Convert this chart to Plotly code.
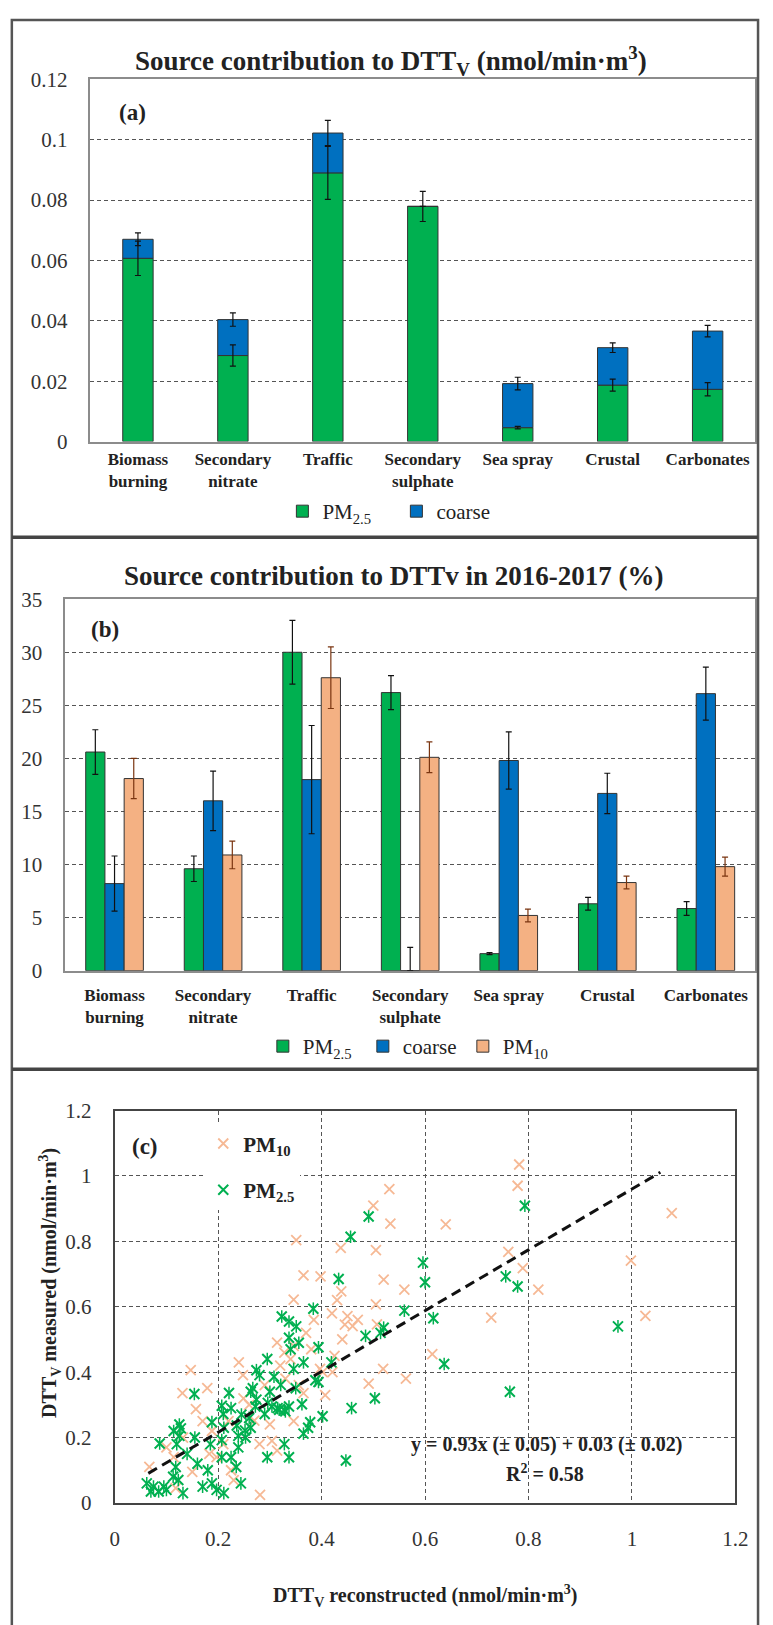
import plotly.graph_objects as go

W, H = 773, 1625

# ---------------- data ----------------
categories = ["Biomass<br>burning", "Secondary<br>nitrate", "Traffic", "Secondary<br>sulphate",
              "Sea spray", "Crustal", "Carbonates"]

# (a) source contribution to DTTv, nmol/min·m3 (stacked PM2.5 + coarse)
pm25_a = [0.0607, 0.0285, 0.0890, 0.0779, 0.0046, 0.0187, 0.0173]
pm25_a_err = [0.0057, 0.0035, 0.0088, 0.0050, 0.0004, 0.0020, 0.0022]
coarse_a = [0.0063, 0.0119, 0.0132, 0.0, 0.0146, 0.0124, 0.0193]
coarse_a_err = [0.0021, 0.0022, 0.0042, 0.0, 0.0021, 0.0016, 0.0019]

# (b) source contribution to DTTv in 2016-2017, %
pm25_b = [20.6, 9.6, 30.0, 26.2, 1.6, 6.3, 5.85]
pm25_b_err = [2.1, 1.2, 3.0, 1.6, 0.1, 0.6, 0.65]
coarse_b = [8.2, 16.0, 18.0, 0.0, 19.8, 16.7, 26.1]
coarse_b_err = [2.6, 2.8, 5.1, 2.2, 2.7, 1.9, 2.5]
pm10_b = [18.1, 10.9, 27.6, 20.1, 5.2, 8.3, 9.8]
pm10_b_err = [1.9, 1.3, 2.9, 1.45, 0.6, 0.6, 0.9]

# (c) measured vs reconstructed DTTv
pm25_x = [0.793, 0.491, 0.456, 0.433, 0.596, 0.600, 0.756, 0.779, 0.384, 0.560, 0.616, 0.637,
          0.764, 0.973, 0.485, 0.514, 0.520, 0.503, 0.458, 0.447, 0.419, 0.402, 0.394, 0.394,
          0.323, 0.337, 0.351, 0.356, 0.346, 0.365, 0.388, 0.374, 0.337, 0.340, 0.321, 0.350,
          0.315, 0.330, 0.296, 0.274, 0.290, 0.362, 0.378, 0.365, 0.267, 0.280, 0.274, 0.308,
          0.295, 0.263, 0.272, 0.300, 0.304, 0.318, 0.328, 0.337, 0.295, 0.337, 0.328,
          0.087, 0.125, 0.128, 0.114, 0.125, 0.154, 0.207, 0.221, 0.210, 0.188, 0.236, 0.252,
          0.239, 0.207, 0.155, 0.160, 0.118, 0.113, 0.123, 0.132, 0.170, 0.188, 0.197, 0.211,
          0.225, 0.211, 0.239, 0.225, 0.235, 0.244, 0.207, 0.253, 0.263, 0.062, 0.070, 0.085,
          0.095, 0.075, 0.100, 0.140, 0.180, 0.260, 0.245, 0.120, 0.185]
pm25_y = [0.909, 0.876, 0.814, 0.685, 0.735, 0.675, 0.693, 0.662, 0.594, 0.588, 0.565, 0.425,
          0.340, 0.540, 0.511, 0.520, 0.536, 0.320, 0.290, 0.130, 0.430, 0.265, 0.370, 0.476,
          0.570, 0.555, 0.540, 0.490, 0.410, 0.430, 0.375, 0.230, 0.505, 0.470, 0.361, 0.351,
          0.290, 0.280, 0.306, 0.316, 0.272, 0.302, 0.247, 0.212, 0.351, 0.391, 0.406, 0.386,
          0.440, 0.340, 0.295, 0.340, 0.295, 0.285, 0.285, 0.295, 0.140, 0.140, 0.180,
          0.182, 0.240, 0.228, 0.220, 0.205, 0.333, 0.297, 0.336, 0.272, 0.247, 0.237, 0.222,
          0.205, 0.192, 0.200, 0.120, 0.110, 0.080, 0.070, 0.030, 0.050, 0.060, 0.040, 0.030,
          0.290, 0.230, 0.170, 0.140, 0.110, 0.060, 0.140, 0.200, 0.230, 0.060, 0.035, 0.035,
          0.050, 0.050, 0.040, 0.150, 0.100, 0.260, 0.270, 0.180, 0.180]

pm10_x = [0.782, 0.779, 0.531, 0.500, 0.533, 0.640, 1.077, 0.351, 0.437, 0.505, 0.761, 0.998,
          0.789, 0.365, 0.398, 0.520, 0.438, 0.560, 0.819, 0.346, 0.505, 0.728, 1.026, 0.450,
          0.460, 0.507, 0.614, 0.519, 0.563, 0.491, 0.346, 0.397, 0.365, 0.270, 0.248, 0.147,
          0.179, 0.131, 0.157, 0.188, 0.183, 0.197, 0.225, 0.230, 0.281, 0.249, 0.290, 0.314,
          0.328, 0.314, 0.304, 0.346, 0.356, 0.402, 0.407, 0.421, 0.067, 0.114, 0.100, 0.132,
          0.150, 0.118, 0.420, 0.430, 0.440, 0.470, 0.425, 0.380, 0.220, 0.280, 0.320, 0.240,
          0.300, 0.340, 0.370, 0.385, 0.445, 0.260, 0.210, 0.170, 0.330]
pm10_y = [1.035, 0.970, 0.960, 0.909, 0.854, 0.852, 0.886, 0.804, 0.780, 0.773, 0.768, 0.741,
          0.718, 0.696, 0.693, 0.683, 0.647, 0.652, 0.652, 0.622, 0.607, 0.567, 0.572, 0.571,
          0.541, 0.546, 0.455, 0.410, 0.380, 0.365, 0.480, 0.410, 0.336, 0.252, 0.391, 0.406,
          0.351, 0.336, 0.287, 0.220, 0.150, 0.140, 0.100, 0.070, 0.025, 0.320, 0.360, 0.490,
          0.460, 0.160, 0.190, 0.250, 0.360, 0.400, 0.330, 0.400, 0.110, 0.140, 0.170, 0.200,
          0.095, 0.045, 0.580, 0.620, 0.500, 0.560, 0.450, 0.470, 0.250, 0.180, 0.420, 0.430,
          0.240, 0.440, 0.520, 0.560, 0.545, 0.300, 0.180, 0.250, 0.380]

fit_slope, fit_intercept = 0.93, 0.03
fit_x = [0.065, 1.055]

# ---------------- style ----------------
GREEN = "#00b050"
BLUE = "#0070c0"
PEACH = "#f4b183"
PEACH_MARK = "#f6b995"
SERIF = "Liberation Serif"
GRID = "#555555"
FRAME = "#8c8c8c"


def pxx(x):
    return x / W


def pxy(y):
    return 1 - y / H


fig = go.Figure()

# ---------------- (a) stacked bars ----------------
bar_w_a = 0.32
fig.add_trace(go.Bar(x=categories, y=pm25_a, name="PM<sub>2.5</sub>", marker_color=GREEN,
                     marker_line=dict(color="#333333", width=1), width=bar_w_a, offset=-bar_w_a / 2,
                     xaxis="x", yaxis="y", legend="legend"))
fig.add_trace(go.Bar(x=categories, y=coarse_a, base=pm25_a, name="coarse", marker_color=BLUE,
                     marker_line=dict(color="#333333", width=1), width=bar_w_a, offset=-bar_w_a / 2,
                     xaxis="x", yaxis="y", legend="legend"))
total_a = [p + c for p, c in zip(pm25_a, coarse_a)]
for yy, ee in ((pm25_a, pm25_a_err), (total_a, coarse_a_err)):
    fig.add_trace(go.Scatter(x=categories, y=yy, mode="markers", marker=dict(size=1, opacity=0),
                             error_y=dict(type="data", array=ee, color="#111111", thickness=1.2, width=3),
                             showlegend=False, hoverinfo="skip", xaxis="x", yaxis="y",
                             legend="legend"))

# ---------------- (b) grouped bars ----------------
bar_w_b = 0.195
groups_b = [
    ("PM<sub>2.5</sub>", pm25_b, pm25_b_err, GREEN, "#111111", -1.5),
    ("coarse", coarse_b, coarse_b_err, BLUE, "#111111", -0.5),
    ("PM<sub>10</sub>", pm10_b, pm10_b_err, PEACH, "#7a3510", 0.5),
]
for name, vals, errs, col, ecol, k in groups_b:
    fig.add_trace(go.Bar(x=categories, y=vals, name=name, marker_color=col,
                         marker_line=dict(color="#333333", width=1), width=bar_w_b, offset=k * bar_w_b,
                         error_y=dict(type="data", array=errs,
                                      arrayminus=[min(e, v) for e, v in zip(errs, vals)],
                                      color=ecol, thickness=1.2, width=3),
                         xaxis="x2", yaxis="y2", legend="legend2"))

# ---------------- (c) scatter ----------------
fig.add_trace(go.Scatter(x=pm10_x, y=pm10_y, mode="markers", name="PM<sub>10</sub>",
                         marker=dict(symbol="x-thin", size=10, line=dict(color=PEACH_MARK, width=1.8)),
                         xaxis="x3", yaxis="y3", legend="legend3", legendgroup="pm10"))
fig.add_trace(go.Scatter(x=pm25_x, y=pm25_y, mode="markers", name="PM<sub>2.5</sub>",
                         marker=dict(symbol="x-thin", size=10, line=dict(color=GREEN, width=2)),
                         xaxis="x3", yaxis="y3", legend="legend3", legendgroup="pm25"))
fig.add_trace(go.Scatter(x=pm25_x, y=pm25_y, mode="markers", showlegend=False, hoverinfo="skip",
                         marker=dict(symbol="line-ns", size=9, line=dict(color=GREEN, width=1.5)),
                         xaxis="x3", yaxis="y3", legend="legend3", legendgroup="pm25"))
fig.add_trace(go.Scatter(x=fit_x, y=[fit_slope * v + fit_intercept for v in fit_x], mode="lines",
                         line=dict(color="#111111", width=3, dash="10px,6px"), showlegend=False,
                         xaxis="x3", yaxis="y3", legend="legend3"))

# ---------------- axes ----------------
tickfont = dict(family=SERIF, size=21, color="#333333")
catfont = dict(family=SERIF, size=17, color="#222222", weight="bold")
common_axis = dict(showline=True, mirror=True, linecolor=FRAME, linewidth=1.5, ticks="",
                   zeroline=False, fixedrange=True)
grid = dict(showgrid=True, gridcolor=GRID, griddash="4px,3px", gridwidth=1.2)
dark_axis = {**common_axis, "linecolor": "#444444", "linewidth": 2}

fig.update_layout(
    xaxis=dict(domain=[pxx(87.5), pxx(768)], anchor="y", type="category", range=[-0.5, 6.5],
               showgrid=False, tickfont=catfont, ticklabelstandoff=1, **common_axis),
    yaxis=dict(domain=[pxy(436), pxy(68.3)], anchor="x", range=[0, 0.12], dtick=0.02,
               tickfont=tickfont, ticklabelstandoff=17, **grid, **common_axis),
    xaxis2=dict(domain=[pxx(61.7), pxx(768)], anchor="y2", type="category", range=[-0.5, 6.5],
                showgrid=False, tickfont=catfont, ticklabelstandoff=8, **common_axis),
    yaxis2=dict(domain=[pxy(973), pxy(596)], anchor="x2", range=[0, 35], dtick=5,
                tickfont=tickfont, ticklabelstandoff=17, **grid, **common_axis),
    xaxis3=dict(domain=[pxx(112.3), pxx(747.8)], anchor="y3", range=[0, 1.2], dtick=0.2,
                tickfont=tickfont, ticklabelstandoff=16, **grid, **dark_axis),
    yaxis3=dict(domain=[pxy(1513.3), pxy(1115)], anchor="x3", range=[0, 1.2], dtick=0.2,
                tickfont=tickfont, ticklabelstandoff=17, **grid, **dark_axis),
    barmode="overlay",
    width=W, height=H,
    margin=dict(l=0, r=0, t=0, b=0),
    paper_bgcolor="white", plot_bgcolor="white",
    font=dict(family=SERIF, color="#222222"),
    legend=dict(orientation="h", x=pxx(284), xanchor="left", y=pxy(507), yanchor="middle",
                font=dict(family=SERIF, size=21, color="#222222"), bgcolor="rgba(0,0,0,0)",
                traceorder="normal", entrywidth=69, entrywidthmode="pixels"),
    legend2=dict(orientation="h", x=pxx(264), xanchor="left", y=pxy(1050), yanchor="middle",
                 font=dict(family=SERIF, size=21, color="#222222"), bgcolor="rgba(0,0,0,0)",
                 traceorder="normal", entrywidth=55, entrywidthmode="pixels"),
    legend3=dict(orientation="v", x=pxx(203), xanchor="left", y=pxy(1128), yanchor="top",
                 font=dict(family=SERIF, size=21, color="#222222", weight="bold"),
                 bgcolor="white", tracegroupgap=16, itemwidth=30),
    showlegend=True,
)

# ---------------- titles and labels ----------------
title_font = dict(family=SERIF, size=27, color="#222222", weight="bold")
label_font = dict(family=SERIF, size=23, color="#222222", weight="bold")
bold19 = dict(family=SERIF, size=20, color="#222222", weight="bold")
ann = [
    dict(text="Source contribution to DTT<sub>V</sub> (nmol/min·m<sup>3</sup>)", x=pxx(395), y=pxy(50),
         font=title_font),
    dict(text="Source contribution to DTTv in 2016-2017 (%)", x=pxx(398), y=pxy(572), font=title_font),
    dict(text="(a)", x=pxx(131), y=pxy(102), font=label_font),
    dict(text="(b)", x=pxx(102.5), y=pxy(627), font=label_font),
    dict(text="(c)", x=pxx(143), y=pxy(1152), font=label_font),
    dict(text="y = 0.93x (± 0.05) + 0.03 (± 0.02)", x=pxx(554), y=pxy(1454), font=bold19),
    dict(text="R<sup>2</sup> = 0.58", x=pxx(553), y=pxy(1483), font=bold19),
    dict(text="DTT<sub>V</sub> reconstructed (nmol/min·m<sup>3</sup>)", x=pxx(431), y=pxy(1608),
         font=bold19),
    dict(text="DTT<sub>V</sub> measured (nmol/min·m<sup>3</sup>)", x=pxx(46), y=pxy(1290), textangle=-90,
         font=bold19),
]
for a in ann:
    a.update(xref="paper", yref="paper", showarrow=False, xanchor="center", yanchor="middle")
fig.update_layout(annotations=ann)

# ---------------- outer frame and panel separators ----------------
shapes = [
    dict(type="rect", x0=pxx(7), x1=pxx(771), y0=pxy(1640), y1=pxy(8),
         line=dict(color="#555555", width=2.5)),
    dict(type="line", x0=pxx(7), x1=pxx(771), y0=pxy(533), y1=pxy(533),
         line=dict(color="#444444", width=3.5)),
    dict(type="line", x0=pxx(7), x1=pxx(771), y0=pxy(1073), y1=pxy(1073),
         line=dict(color="#444444", width=3.5)),
]
for s in shapes:
    s.update(xref="paper", yref="paper", layer="above")
fig.update_layout(shapes=shapes)

fig.write_html("out.html")
